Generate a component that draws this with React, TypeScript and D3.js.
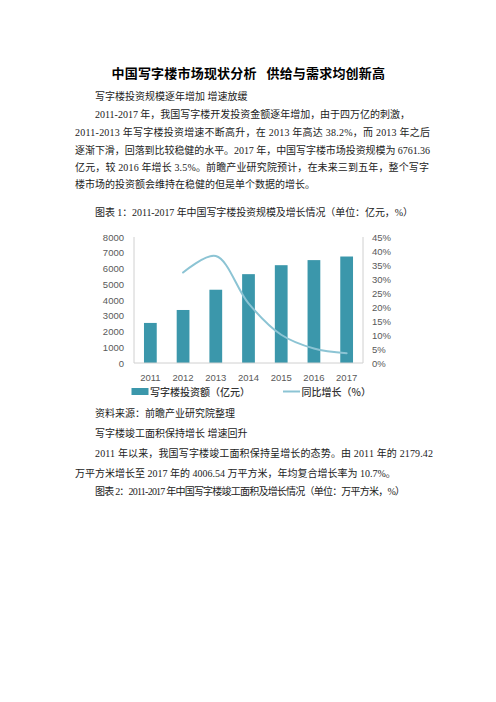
import React from "react";
import * as d3 from "d3";

const years = ["2011", "2012", "2013", "2014", "2015", "2016", "2017"];
const investment = [2544, 3366, 4652, 5641, 6210, 6533, 6761];
const growth = [null, 32.3, 38.2, 21.3, 10.1, 5.2, 3.5];
const leftTicks = [0, 1000, 2000, 3000, 4000, 5000, 6000, 7000, 8000];
const rightTicks = [0, 5, 10, 15, 20, 25, 30, 35, 40, 45];
const legendBar = "写字楼投资额（亿元）";
const legendLine = "同比增长（%）";

const titleParts = ["中国写字楼市场现状分析", "供给与需求均创新高"];
const topLines = [
  { t: "写字楼投资规模逐年增加 增速放缓", x: 95, y: 96.5 },
  { t: "2011-2017 年，我国写字楼开发投资金额逐年增加，由于四万亿的刺激，", x: 95, y: 114.5, w: 315 },
  { t: "2011-2013 年写字楼投资增速不断高升，在 2013 年高达 38.2%，而 2013 年之后", x: 75, y: 132.5, w: 355 },
  { t: "逐渐下滑，回落到比较稳健的水平。2017 年，中国写字楼市场投资规模为 6761.36", x: 75, y: 150, w: 355 },
  { t: "亿元，较 2016 年增长 3.5%。前瞻产业研究院预计，在未来三到五年，整个写字", x: 75, y: 167.5, w: 354 },
  { t: "楼市场的投资额会维持在稳健的但是单个数据的增长。", x: 75, y: 184.5 },
  { t: "图表 1：2011-2017 年中国写字楼投资规模及增长情况（单位：亿元，%）", x: 95, y: 212, w: 318 },
];
const bottomLines = [
  { t: "资料来源：前瞻产业研究院整理", x: 95, y: 413 },
  { t: "写字楼竣工面积保持增长 增速回升", x: 95, y: 433 },
  { t: "2011 年以来，我国写字楼竣工面积保持呈增长的态势。由 2011 年的 2179.42", x: 95, y: 453, w: 338 },
  { t: "万平方米增长至 2017 年的 4006.54 万平方米，年均复合增长率为 10.7%。", x: 75, y: 473 },
  { t: "图表 2：2011-2017 年中国写字楼竣工面积及增长情况（单位：万平方米，%）", x: 95, y: 491, w: 310 },
];

const bodyFont = "'Liberation Serif', 'Noto Sans CJK SC', serif";
const cjkFont = "'Noto Sans CJK SC', sans-serif";
const axisFont = "'Liberation Sans', Arial, sans-serif";
const barColor = "#3b97ab";
const lineColor = "#8cc4d4";
const axisColor = "#d0d0d0";
const tickColor = "#595959";

export default function App() {
  const x = d3
    .scaleBand<string>()
    .domain(years)
    .range([134, 363])
    .paddingInner(0.61)
    .paddingOuter(0.305);
  const yL = d3.scaleLinear().domain([0, 8000]).range([363, 237]);
  const yR = d3.scaleLinear().domain([0, 45]).range([363, 237]);
  const cx = (y: string) => (x(y) ?? 0) + x.bandwidth() / 2;

  const pts = years
    .map((yr, i) => ({ yr, v: growth[i] }))
    .filter((d) => d.v !== null) as { yr: string; v: number }[];
  const linePath =
    d3
      .line<{ yr: string; v: number }>()
      .x((d) => cx(d.yr))
      .y((d) => yR(d.v))
      .curve(d3.curveCatmullRom.alpha(0.5))(pts) || "";

  const renderLine = (l: { t: string; x: number; y: number; w?: number }, i: number) => (
    <text
      key={i}
      x={l.x}
      y={l.y + 3.5}
      fontSize={10}
      fill="#222"
      fontFamily={bodyFont}
      {...(l.w ? { textLength: l.w, lengthAdjust: "spacing" } : {})}
    >
      {l.t}
    </text>
  );

  return (
    <div style={{ position: "absolute", left: 0, top: 0 }}>
      <svg width={496} height={702} style={{ display: "block", background: "#fff" }}>
        <text x={111.5} y={78} fontSize={13} fontWeight="bold" fill="#000" fontFamily={cjkFont}
          textLength={145} lengthAdjust="spacing">
          {titleParts[0]}
        </text>
        <text x={266.5} y={78} fontSize={13} fontWeight="bold" fill="#000" fontFamily={cjkFont}
          textLength={118.5} lengthAdjust="spacing">
          {titleParts[1]}
        </text>
        {topLines.map(renderLine)}

        {/* chart */}
        <g>
          {years.map((yr, i) => (
            <rect
              key={yr}
              x={x(yr)}
              y={yL(investment[i])}
              width={x.bandwidth()}
              height={yL(0) - yL(investment[i])}
              fill={barColor}
            />
          ))}
          <line x1={134} x2={134} y1={237} y2={363} stroke={axisColor} />
          <line x1={363} x2={363} y1={237} y2={363} stroke={axisColor} />
          <line x1={134} x2={363} y1={363} y2={363} stroke={axisColor} />
          <path d={linePath} fill="none" stroke={lineColor} strokeWidth={2} strokeLinecap="round" />
          {leftTicks.map((t) => (
            <text
              key={"l" + t}
              x={124}
              y={yL(t) + 3.5}
              textAnchor="end"
              fontSize={9.5}
              fill={tickColor}
              fontFamily={axisFont}
            >
              {t}
            </text>
          ))}
          {rightTicks.map((t) => (
            <text
              key={"r" + t}
              x={372}
              y={yR(t) + 3.5}
              fontSize={9.5}
              fill={tickColor}
              fontFamily={axisFont}
            >
              {t}%
            </text>
          ))}
          {years.map((yr) => (
            <text
              key={"x" + yr}
              x={cx(yr)}
              y={380.5}
              textAnchor="middle"
              fontSize={9.5}
              fill={tickColor}
              fontFamily={axisFont}
            >
              {yr}
            </text>
          ))}
          <rect x={131.5} y={388} width={17} height={7} fill={barColor} />
          <text x={150} y={395.5} fontSize={10} fill="#333" fontFamily={cjkFont} fontWeight="500">
            {legendBar}
          </text>
          <line x1={283} x2={300} y1={391.5} y2={391.5} stroke={lineColor} strokeWidth={2} />
          <text x={301.5} y={395.5} fontSize={10} fill="#333" fontFamily={cjkFont} fontWeight="500">
            {legendLine}
          </text>
        </g>

        {bottomLines.map(renderLine)}
      </svg>
    </div>
  );
}
